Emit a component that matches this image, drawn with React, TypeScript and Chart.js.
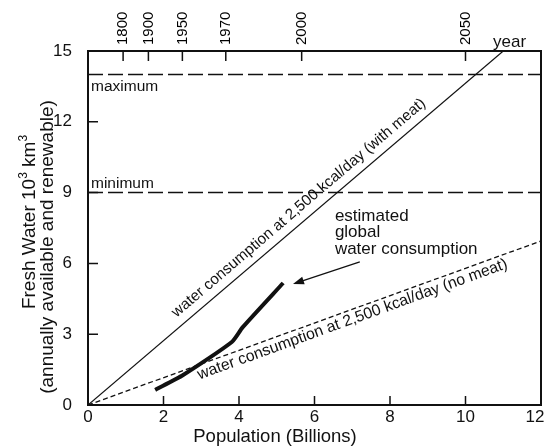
import React, { useEffect, useRef } from "react";
import { Chart, registerables } from "chart.js";

Chart.register(...registerables);

// ---- data ----
const populationTicks = [0, 2, 4, 6, 8, 10, 12];
const populationTickLabels = ["0", "2", "4", "6", "8", "10", "12\u2002\u2009"];
const waterTicks = [0, 3, 6, 9, 12, 15];
const yearLabels = ["1800", "1900", "1950", "1970", "2000", "2050"];
const yearPopulation = [0.93, 1.6, 2.5, 3.65, 5.66, 10.0];

const withMeatX = [0, 11];
const withMeatY = [0, 15];
const noMeatX = [0, 12];
const noMeatY = [0, 6.95];
const limitX = [0, 12];
const maximumY = [14, 14];
const minimumY = [9, 9];
const estimatedX = [1.78, 2.52, 3.81, 4.1, 5.17];
const estimatedY = [0.64, 1.27, 2.67, 3.3, 5.17];

const withMeatLabel = "water consumption at 2,500 kcal/day (with meat)";
const noMeatLabel = "water consumption at 2,500 kcal/day (no meat)";
const estimatedLabel = ["estimated", "global", "water consumption"];
const estimatedLabelAt = [6.54, 7.8];
const arrowFrom = [7.2, 6.06];
const arrowTo = [5.43, 5.13];

const INK = "#111";
const FAMILY = '"Liberation Sans", Arial, Helvetica, sans-serif';
const f = (s: number) => `${s}px ${FAMILY}`;
const YEAR_FONT = 15;

const pts = (xs: number[], ys: number[]) => xs.map((x, i) => ({ x, y: ys[i] }));

const annotate = {
  id: "annotate",
  afterDraw(chart: any) {
    const { ctx, chartArea: a } = chart;
    const xs = chart.scales.x;
    const ys = chart.scales.y;
    const px = (v: number) => xs.getPixelForValue(v);
    const py = (v: number) => ys.getPixelForValue(v);
    ctx.save();
    ctx.strokeStyle = INK;
    ctx.fillStyle = INK;

    // frame
    ctx.lineWidth = 2;
    ctx.strokeRect(a.left, a.top, a.right - a.left, a.bottom - a.top);

    // inward tick marks
    ctx.lineWidth = 1.5;
    ctx.beginPath();
    populationTicks.slice(1, -1).forEach((v) => {
      ctx.moveTo(px(v), a.bottom);
      ctx.lineTo(px(v), a.bottom - 9);
    });
    waterTicks.slice(1, -1).forEach((v) => {
      ctx.moveTo(a.left, py(v));
      ctx.lineTo(a.left + 10, py(v));
    });
    yearPopulation.forEach((v) => {
      ctx.moveTo(px(v), a.top);
      ctx.lineTo(px(v), a.top + 10);
    });
    ctx.stroke();

    // text along lines
    const along = (text: string, lx: number[], ly: number[], at: number, offset: number, size: number) => {
      const x1 = px(lx[0]), y1 = py(ly[0]), x2 = px(lx[1]), y2 = py(ly[1]);
      const ang = Math.atan2(y2 - y1, x2 - x1);
      const t = (at - lx[0]) / (lx[1] - lx[0]);
      const ax = x1 + (x2 - x1) * t, ay = y1 + (y2 - y1) * t;
      ctx.save();
      ctx.translate(ax, ay);
      ctx.rotate(ang);
      ctx.font = f(size);
      ctx.textAlign = "left";
      ctx.textBaseline = "alphabetic";
      ctx.fillText(text, 0, offset);
      ctx.restore();
    };
    along(withMeatLabel, withMeatX, withMeatY, 2.5, -9, 15.3);
    along(noMeatLabel, noMeatX, noMeatY, 2.83, 14, 15.8);

    // estimated label
    ctx.font = f(17);
    ctx.textAlign = "left";
    ctx.textBaseline = "alphabetic";
    estimatedLabel.forEach((s, i) => {
      ctx.fillText(s, px(estimatedLabelAt[0]), py(estimatedLabelAt[1]) + i * 16.5);
    });

    // arrow
    const fx = px(arrowFrom[0]), fy = py(arrowFrom[1]);
    const tx = px(arrowTo[0]), ty = py(arrowTo[1]);
    const ang = Math.atan2(ty - fy, tx - fx);
    ctx.lineWidth = 1.3;
    ctx.beginPath();
    ctx.moveTo(fx, fy);
    ctx.lineTo(tx - Math.cos(ang) * 6, ty - Math.sin(ang) * 6);
    ctx.stroke();
    ctx.beginPath();
    ctx.moveTo(tx, ty);
    ctx.lineTo(tx - Math.cos(ang) * 11 - Math.sin(ang) * 4, ty - Math.sin(ang) * 11 + Math.cos(ang) * 4);
    ctx.lineTo(tx - Math.cos(ang) * 11 + Math.sin(ang) * 4, ty - Math.sin(ang) * 11 - Math.cos(ang) * 4);
    ctx.closePath();
    ctx.fill();

    // maximum / minimum
    ctx.font = f(15.5);
    ctx.fillText("maximum", a.left + 3, py(maximumY[0]) + 16);
    ctx.fillText("minimum", a.left + 3, py(minimumY[0]) - 5);

    // year label
    ctx.font = f(17);
    ctx.fillText("year", a.right - 48, a.top - 4);

    // x title
    ctx.font = f(18.5);
    ctx.textAlign = "center";
    ctx.textBaseline = "middle";
    ctx.fillText("Population (Billions)", 275, 437);

    // y title (rotated, with superscripts)
    const rotLine = (cx: number, cy: number, segs: [string, number, number][]) => {
      ctx.save();
      ctx.translate(cx, cy);
      ctx.rotate(-Math.PI / 2);
      ctx.textAlign = "left";
      ctx.textBaseline = "middle";
      let total = 0;
      segs.forEach(([s, size]) => {
        ctx.font = f(size);
        total += ctx.measureText(s).width;
      });
      let x = -total / 2;
      segs.forEach(([s, size, dy]) => {
        ctx.font = f(size);
        ctx.fillText(s, x, dy);
        x += ctx.measureText(s).width;
      });
      ctx.restore();
    };
    rotLine(30, 222, [["Fresh Water 10", 19, 0], ["3", 12, -6], [" km", 19, 0], ["3", 12, -6]]);
    rotLine(48, 247, [["(annually available and renewable)", 19, 0]]);

    ctx.restore();
  },
};

export default function App() {
  const ref = useRef<HTMLCanvasElement>(null);
  useEffect(() => {
    const canvas = ref.current!;
    Chart.defaults.font.family = FAMILY;
    const noGrid = { display: false, drawTicks: false, drawOnChartArea: false };
    const chart = new Chart(canvas, {
      type: "line",
      data: {
        datasets: [
          {
            data: pts(withMeatX, withMeatY),
            borderColor: INK,
            borderWidth: 1.2,
            pointRadius: 0,
          },
          {
            data: pts(noMeatX, noMeatY),
            borderColor: INK,
            borderWidth: 1.3,
            borderDash: [5, 3],
            pointRadius: 0,
          },
          {
            data: pts(limitX, maximumY),
            borderColor: INK,
            borderWidth: 1.5,
            borderDash: [15, 5],
            pointRadius: 0,
          },
          {
            data: pts(limitX, minimumY),
            borderColor: INK,
            borderWidth: 1.5,
            borderDash: [15, 5],
            pointRadius: 0,
          },
          {
            data: pts(estimatedX, estimatedY),
            borderColor: INK,
            borderWidth: 4,
            pointRadius: 0,
            tension: 0.2,
          },
        ],
      },
      options: {
        animation: false,
        responsive: false,
        devicePixelRatio: 1,
        layout: { padding: { left: 0, right: 3, top: 0, bottom: 0 } },
        plugins: { legend: { display: false }, tooltip: { enabled: false } },
        scales: {
          x: {
            type: "linear",
            position: "bottom",
            min: 0,
            max: 12,
            grid: noGrid,
            border: { display: false },
            afterBuildTicks: (s: any) => {
              s.ticks = populationTicks.map((v) => ({ value: v }));
            },
            afterFit: (s: any) => {
              s.height = 42;
              s.paddingLeft = 0;
              s.paddingRight = 0;
            },
            ticks: {
              autoSkip: false,
              maxRotation: 0,
              padding: 2,
              color: INK,
              font: { size: 17 },
              callback: (_v: any, i: number) => populationTickLabels[i],
            },
          },
          xTop: {
            type: "linear",
            position: "top",
            min: 0,
            max: 12,
            grid: noGrid,
            border: { display: false },
            afterBuildTicks: (s: any) => {
              s.ticks = yearPopulation.map((v) => ({ value: v }));
            },
            afterFit: (s: any) => {
              s.height = 51;
              s.paddingLeft = 0;
              s.paddingRight = 0;
            },
            ticks: {
              autoSkip: false,
              minRotation: 90,
              maxRotation: 90,
              padding: 6,
              labelOffset: YEAR_FONT * 1.2,
              color: "#000",
              font: { size: YEAR_FONT },
              callback: (_v: any, i: number) => yearLabels[i],
            },
          },
          y: {
            type: "linear",
            min: 0,
            max: 15,
            grid: noGrid,
            border: { display: false },
            afterBuildTicks: (s: any) => {
              s.ticks = waterTicks.map((v) => ({ value: v }));
            },
            afterFit: (s: any) => {
              s.width = 88;
              s.paddingTop = 0;
              s.paddingBottom = 0;
            },
            ticks: {
              padding: 16,
              color: INK,
              font: { size: 17 },
            },
          },
        },
      },
      plugins: [annotate],
    } as any);
    return () => chart.destroy();
  }, []);
  return (
    <div style={{ position: "fixed", left: 0, top: 0, width: 544, height: 447, background: "#fff" }}>
      <canvas ref={ref} width={544} height={447} style={{ display: "block", width: 544, height: 447 }} />
    </div>
  );
}
